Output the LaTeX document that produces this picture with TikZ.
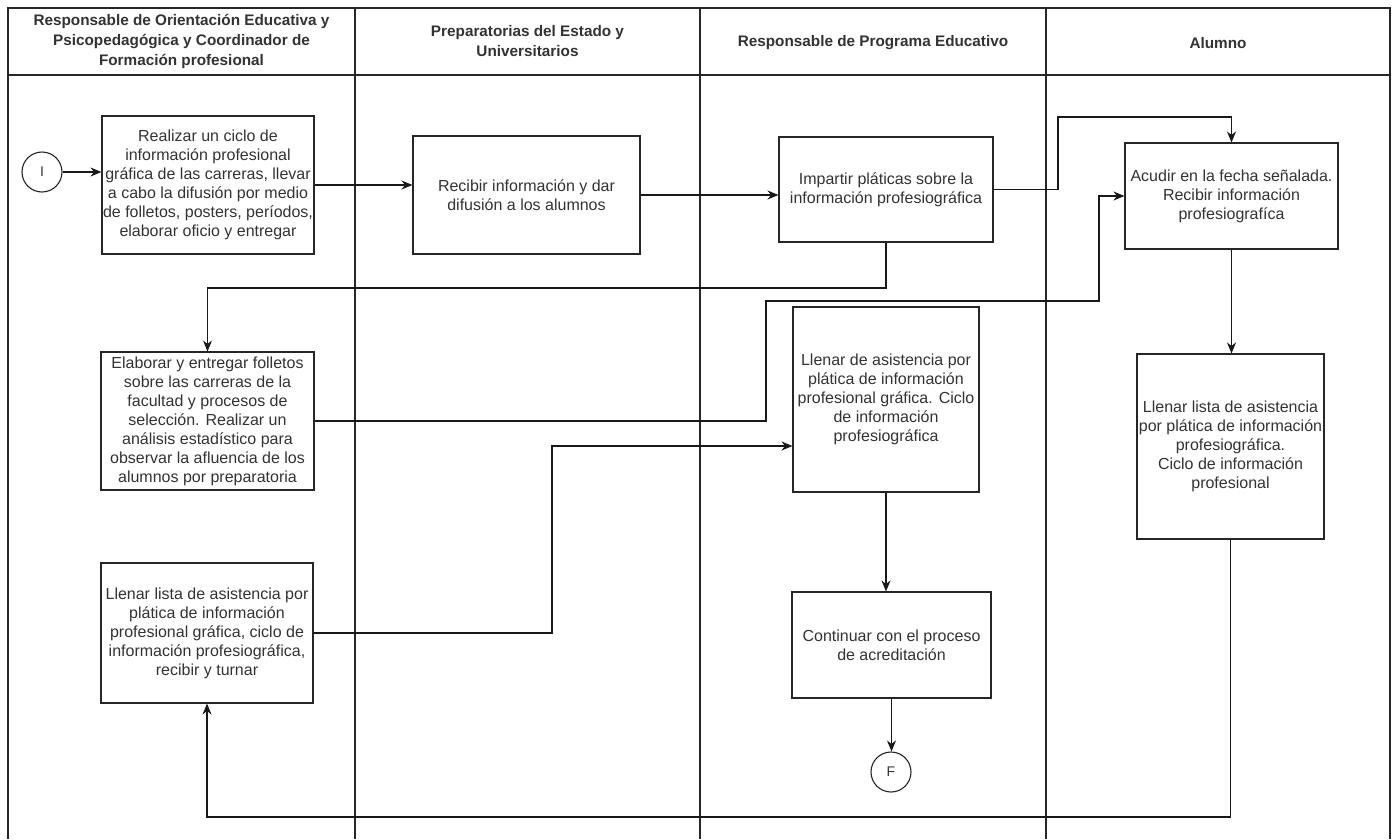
\documentclass[tikz,border=0pt]{standalone}
\usepackage{fontspec}
\setmainfont{Liberation Sans}
\usetikzlibrary{arrows.meta,calc}
\definecolor{txt}{HTML}{333333}
\begin{document}
\begin{tikzpicture}[x=1pt,y=-1pt,
  lane/.style={draw=black!85,line width=1.1pt},
  hdr/.style={align=center,font=\fontsize{15.3}{20}\selectfont\bfseries,text=txt,inner sep=0pt},
  box/.style={draw=black!85,line width=1.1pt,align=center,inner sep=0pt,text=txt,font=\fontsize{16}{19}\selectfont},
  term/.style={draw=black!85,line width=1.1pt,circle,minimum size=40pt,inner sep=0pt,text=txt,font=\fontsize{14}{16}\selectfont},
  arr/.style={draw=black!90,line width=1.1pt,-{Stealth[length=11pt,width=9pt]}}]
\useasboundingbox (0,0) rectangle (1394,839);
\fill[white] (0,0) rectangle (1394,839);
% swimlanes
\draw[lane] (8,839) -- (8,8) -- (1390,8) -- (1390,839);
\draw[lane] (8,75) -- (1390,75);
\draw[lane] (355,8) -- (355,839);
\draw[lane] (700,8) -- (700,839);
\draw[lane] (1046,8) -- (1046,839);
\node[hdr] (h1) at (181.5,41.5) {Responsable de Orientación Educativa y\\Psicopedagógica y Coordinador de\\Formación profesional};
\node[hdr] (h2) at (527.5,41.5) {Preparatorias del Estado y\\Universitarios};
\node[hdr] (h3) at (873,43) {Responsable de Programa Educativo};
\node[hdr] (h4) at (1218,43) {Alumno};
% nodes
\node[term] (sI) at (42,172) {I};
\node[box,minimum width=212pt,minimum height=138pt] (A) at (208,185) {Realizar un ciclo de\\información profesional\\gráfica de las carreras, llevar\\a cabo la difusión por medio\\de folletos, posters, períodos,\\elaborar oficio y entregar};
\node[box,minimum width=227pt,minimum height=118pt] (B) at (526.5,195) {Recibir información y dar\\difusión a los alumnos};
\node[box,minimum width=214pt,minimum height=105pt] (C) at (886,189.5) {Impartir pláticas sobre la\\información profesiográfica};
\node[box,minimum width=213pt,minimum height=106pt] (D) at (1231.5,196) {Acudir en la fecha señalada.\\Recibir información\\profesiografíca};
\node[box,minimum width=213pt,minimum height=138pt] (E) at (207.5,421) {Elaborar y entregar folletos\\sobre las carreras de la\\facultad y procesos de\\selección. Realizar un\\análisis estadístico para\\observar la afluencia de los\\alumnos por preparatoria};
\node[box,minimum width=186pt,minimum height=185pt] (F) at (886,399.5) {Llenar de asistencia por\\plática de información\\profesional gráfica. Ciclo\\de información\\profesiográfica};
\node[box,minimum width=187pt,minimum height=185pt] (G) at (1230.5,446.5) {Llenar lista de asistencia\\por plática de información\\profesiográfica.\\Ciclo de información\\profesional};
\node[box,minimum width=212pt,minimum height=140pt] (H) at (207,633) {Llenar lista de asistencia por\\plática de información\\profesional gráfica, ciclo de\\información profesiográfica,\\recibir y turnar};
\node[box,minimum width=199pt,minimum height=106pt] (I) at (891.5,645) {Continuar con el proceso\\de acreditación};
\node[term] (eF) at (891,772) {F};
% helper coordinates
\coordinate (c1) at (1058,117);
\coordinate (e1) at (766,301);
\coordinate (e2) at (1099,301);
\coordinate (k1) at (552,446);
% connectors
\draw[arr] (sI) -- (sI -| A.west);
\draw[arr] (A.east) -- (A.east -| B.west);
\draw[arr] (B.east) -- (B.east -| C.west);
\draw[arr] (C.east) -| (c1) -| (D.north);
\draw[arr] (C.south) -- (C.south |- 0,288) -| (E.north);
\draw[arr] (E.east) -| (e1) -- (e2) |- (D.west);
\draw[arr] (H.east) -| (k1) -- (k1 -| F.west);
\draw[arr] (F.south) -- (F.south |- I.north);
\draw[arr] (I.south) -- (I.south |- eF.north);
\draw[arr] (D.south) -- (D.south |- G.north);
\draw[arr] (G.south) -- (G.south |- 0,817) -| (H.south);
\end{tikzpicture}
\end{document}
